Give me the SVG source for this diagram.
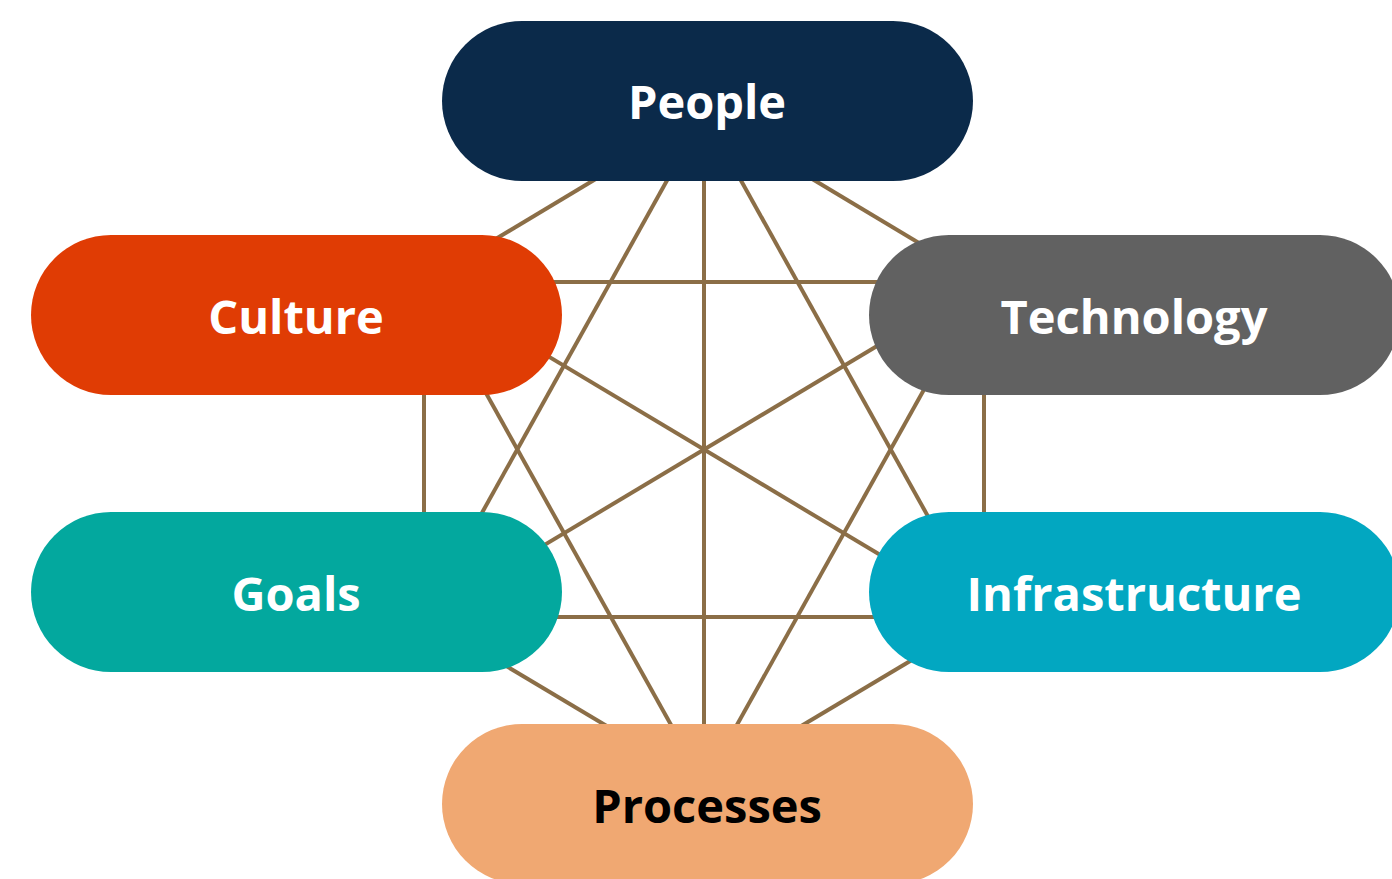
<svg xmlns="http://www.w3.org/2000/svg" width="1392" height="879" viewBox="0 0 1392 879">
<style>
.edge{stroke:#8b6e47;stroke-width:4;fill:none}
.lbl{font-family:"Open Sans","Noto Sans","Liberation Sans",sans-serif;font-weight:700;font-size:47px;text-anchor:middle;fill:#ffffff}
</style>
<rect width="1392" height="879" fill="#ffffff"/>
<g id="connectors">
<line class="edge" x1="704" y1="114" x2="424" y2="282"/>
<line class="edge" x1="704" y1="114" x2="984" y2="282"/>
<line class="edge" x1="704" y1="114" x2="424" y2="617"/>
<line class="edge" x1="704" y1="114" x2="984" y2="617"/>
<line class="edge" x1="704" y1="114" x2="704" y2="784"/>
<line class="edge" x1="424" y1="282" x2="984" y2="282"/>
<line class="edge" x1="424" y1="282" x2="424" y2="617"/>
<line class="edge" x1="424" y1="282" x2="984" y2="617"/>
<line class="edge" x1="424" y1="282" x2="704" y2="784"/>
<line class="edge" x1="984" y1="282" x2="424" y2="617"/>
<line class="edge" x1="984" y1="282" x2="984" y2="617"/>
<line class="edge" x1="984" y1="282" x2="704" y2="784"/>
<line class="edge" x1="424" y1="617" x2="984" y2="617"/>
<line class="edge" x1="424" y1="617" x2="704" y2="784"/>
<line class="edge" x1="984" y1="617" x2="704" y2="784"/>
</g>
<g id="people">
<rect x="442" y="21" width="531" height="160" rx="80" fill="#0b2a4a"/>
<text class="lbl" x="707" y="119">People</text>
</g>
<g id="culture">
<rect x="31" y="235" width="531" height="160" rx="80" fill="#e03c04"/>
<text class="lbl" x="296" y="334">Culture</text>
</g>
<g id="technology">
<rect x="869" y="235" width="531" height="160" rx="80" fill="#616161"/>
<text class="lbl" x="1134" y="334">Technology</text>
</g>
<g id="goals">
<rect x="31" y="512" width="531" height="160" rx="80" fill="#03a89e"/>
<text class="lbl" x="296" y="611">Goals</text>
</g>
<g id="infrastructure">
<rect x="869" y="512" width="531" height="160" rx="80" fill="#02a7c1"/>
<text class="lbl" x="1134" y="611">Infrastructure</text>
</g>
<g id="processes">
<rect x="442" y="724" width="531" height="160" rx="80" fill="#f0a872"/>
<text class="lbl" x="707" y="823" style="fill:#000000">Processes</text>
</g>
</svg>
